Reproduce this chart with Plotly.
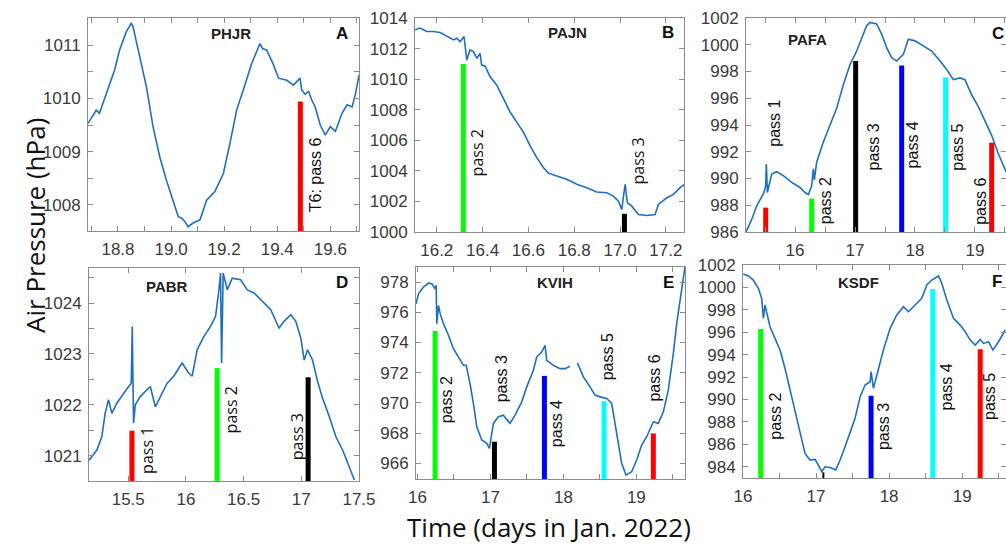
import plotly.graph_objects as go

# ---------------- data ----------------
# Panel A  PHJR
a_t = [18.687, 18.718, 18.73, 18.756, 18.787, 18.806, 18.831, 18.850, 18.856, 18.882, 18.907, 18.932,
       18.957, 18.982, 19.008, 19.027, 19.040, 19.052, 19.064, 19.083, 19.109, 19.134, 19.165, 19.197,
       19.222, 19.247, 19.272, 19.304, 19.335, 19.345, 19.360, 19.386, 19.405, 19.420, 19.436, 19.461,
       19.486, 19.492, 19.505, 19.518, 19.530, 19.543, 19.562, 19.581, 19.600, 19.619, 19.644, 19.663,
       19.682, 19.695, 19.708]
a_p = [1009.53, 1009.78, 1009.72, 1010.09, 1010.53, 1010.91, 1011.25, 1011.41, 1011.36, 1010.78, 1010.22, 1009.47,
       1008.91, 1008.47, 1008.09, 1007.78, 1007.75, 1007.69, 1007.59, 1007.66, 1007.72, 1008.09, 1008.25, 1008.59,
       1009.16, 1009.78, 1010.16, 1010.66, 1011.03, 1010.93, 1010.91, 1010.63, 1010.38, 1010.36, 1010.34, 1010.25,
       1010.38, 1010.16, 1010.08, 1010.13, 1009.97, 1009.84, 1009.50, 1009.31, 1009.47, 1009.38, 1009.72, 1009.88,
       1009.84, 1010.09, 1010.44]
a_bar_t = [19.487]
a_bar_top = [1009.94]
a_bar_col = ["#ff0000"]
a_lab = ["T6: pass 6"]
a_lab_t = [19.543]
a_lab_p = [1008.56]

# Panel B  PAJN
b_t = [16.105, 16.127, 16.156, 16.185, 16.215, 16.244, 16.273, 16.287, 16.302, 16.319, 16.331, 16.345,
       16.36, 16.375, 16.389, 16.396, 16.411, 16.433, 16.462, 16.491, 16.52, 16.549, 16.578, 16.607,
       16.636, 16.665, 16.687, 16.724, 16.767, 16.811, 16.855, 16.898, 16.942, 16.971, 16.993, 17.007,
       17.018, 17.022, 17.032, 17.051, 17.080, 17.116, 17.153, 17.167, 17.204, 17.233, 17.262, 17.279]
b_p = [1013.23, 1013.34, 1013.12, 1013.12, 1013.05, 1012.79, 1012.57, 1012.68, 1012.46, 1012.79, 1011.25, 1011.91,
       1011.8, 1011.36, 1011.69, 1010.92, 1010.85, 1010.15, 1009.60, 1008.73, 1007.85, 1007.19, 1006.53, 1005.65,
       1004.88, 1004.22, 1003.85, 1003.67, 1003.45, 1003.12, 1002.90, 1002.62, 1002.57, 1002.35, 1002.02, 1001.47,
       1002.57, 1003.12, 1001.91, 1001.69, 1001.14, 1001.08, 1001.14, 1001.8, 1002.24, 1002.46, 1002.90, 1003.1]
b_bar_t = [16.316, 17.019]
b_bar_top = [1010.99, 1001.19]
b_bar_col = ["#00ff00", "#000000"]
b_lab = ["pass 2", "pass 3"]
b_lab_t = [16.375, 17.077]
b_lab_p = [1005.2, 1004.66]

# Panel C  PAFA
c_t = [15.183, 15.278, 15.361, 15.444, 15.483, 15.511, 15.522, 15.539, 15.567, 15.611, 15.694, 15.806,
       15.944, 16.083, 16.167, 16.222, 16.278, 16.306, 16.322, 16.361, 16.472, 16.583, 16.694, 16.806,
       16.917, 17.028, 17.111, 17.194, 17.25, 17.361, 17.444, 17.528, 17.611, 17.694, 17.806, 17.889,
       18.0, 18.139, 18.278, 18.417, 18.528, 18.639, 18.75, 18.833, 18.944, 19.056, 19.167, 19.278,
       19.389, 19.5, 19.52]
c_p = [986.0, 986.94, 987.94, 988.57, 988.95, 989.46, 991.09, 988.95, 989.58, 990.34, 990.51, 990.21,
       989.71, 989.33, 988.95, 988.8, 989.46, 990.72, 989.9, 991.22, 992.73, 993.99, 995.25, 997.01,
       998.52, 999.53, 1000.54, 1001.42, 1001.67, 1001.55, 1000.79, 999.78, 999.03, 998.78, 999.28, 1000.41,
       1000.29, 999.91, 999.53, 998.78, 998.15, 997.39, 997.52, 997.39, 996.26, 995.38, 994.24, 993.23,
       991.85, 990.72, 990.5]
c_bar_t = [15.511, 16.278, 17.011, 17.778, 18.511, 19.278]
c_bar_top = [987.82, 988.5, 998.78, 998.45, 997.57, 992.68]
c_bar_col = ["#ff0000", "#00ff00", "#000000", "#0000ff", "#00ffff", "#ff0000"]
c_lab = ["pass 1", "pass 2", "pass 3", "pass 4", "pass 5", "pass 6"]
c_lab_t = [15.667, 16.5, 17.306, 17.956, 18.694, 19.094]
c_lab_p = [994.1, 988.3, 992.35, 992.5, 992.35, 988.3]

# Panel D  PABR
d_t = [15.161, 15.228, 15.271, 15.3, 15.329, 15.358, 15.401, 15.459, 15.503, 15.526, 15.535, 15.546,
       15.561, 15.604, 15.662, 15.691, 15.735, 15.778, 15.836, 15.894, 15.967, 16.025, 16.054, 16.097,
       16.155, 16.213, 16.257, 16.286, 16.3, 16.309, 16.323, 16.358, 16.401, 16.474, 16.532, 16.59,
       16.677, 16.735, 16.807, 16.851, 16.909, 16.952, 16.996, 17.025, 17.054, 17.097, 17.141, 17.184,
       17.242, 17.3, 17.358, 17.416, 17.46]
d_p = [1020.91, 1021.11, 1021.37, 1021.83, 1022.10, 1021.83, 1022.03, 1022.23, 1022.36, 1022.42, 1023.54, 1021.64,
       1022.0, 1022.16, 1022.29, 1022.36, 1021.96, 1022.16, 1022.42, 1022.56, 1022.82, 1022.62, 1022.56, 1023.08,
       1023.34, 1023.54, 1023.74, 1024.26, 1024.59, 1022.82, 1024.59, 1024.26, 1024.49, 1024.46, 1024.26, 1024.20,
       1024.0, 1023.87, 1023.51, 1023.64, 1023.77, 1023.64, 1023.31, 1022.88, 1023.08, 1022.88, 1022.46, 1022.13,
       1021.77, 1021.37, 1021.11, 1020.78, 1020.52]
d_bar_t = [15.532, 16.271, 17.059]
d_bar_top = [1021.49, 1022.72, 1022.54]
d_bar_col = ["#ff0000", "#00ff00", "#000000"]
d_lab = ["pass 1", "pass 2", "pass 3"]
d_lab_t = [15.662, 16.387, 16.958]
d_lab_p = [1021.11, 1021.9, 1021.37]

# Panel E  KVIH
e_t = [15.98, 16.014, 16.082, 16.151, 16.196, 16.242, 16.256, 16.265, 16.288, 16.311, 16.356, 16.425,
       16.493, 16.562, 16.630, 16.667, 16.721, 16.767, 16.813, 16.881, 16.950, 16.986, 17.041, 17.110,
       17.178, 17.269, 17.338, 17.429, 17.498, 17.589, 17.635, 17.703, 17.749, 17.772, 17.863, 17.954,
       18.023, 18.091, None, 18.192, 18.274, 18.365, 18.434, 18.502, 18.594, 18.662, 18.708, 18.753,
       18.799, 18.858, 18.936, 19.005, 19.073, 19.142, 19.233, 19.301, 19.370, 19.438, 19.507, 19.553,
       19.598, 19.64, 19.667]
e_p = [976.57, 977.23, 977.67, 977.93, 977.89, 977.56, 977.79, 975.25, 976.46, 975.91, 975.25, 974.48,
       973.59, 973.04, 972.49, 972.49, 971.28, 969.96, 968.42, 967.54, 967.32, 966.99, 968.64, 969.08,
       969.19, 968.64, 969.19, 970.07, 971.06, 972.16, 973.04, 973.37, 973.81, 972.82, 972.49, 972.27,
       972.27, 972.43, None, 972.65, 971.72, 971.06, 970.51, 970.40, 970.29, 969.96, 968.64, 967.32,
       966.0, 965.22, 965.44, 966.22, 967.21, 967.76, 968.75, 968.64, 969.41, 970.84, 973.26, 975.25,
       976.79, 978.2, 979.0]
e_bar_t = [16.242, 17.055, 17.74, 18.557, 19.233]
e_bar_top = [974.76, 967.43, 971.79, 970.11, 967.98]
e_bar_col = ["#00ff00", "#000000", "#0000ff", "#00ffff", "#ff0000"]
e_lab = ["pass 2", "pass 3", "pass 4", "pass 5", "pass 6"]
e_lab_t = [16.393, 17.155, 17.909, 18.616, 19.256]
e_lab_p = [970.18, 971.61, 968.64, 973.04, 971.61]

# Panel F  KSDF
f_t = [16.005, 16.073, 16.142, 16.21, 16.256, 16.279, 16.301, 16.324, 16.37, 16.438, 16.507, 16.575,
       16.644, 16.712, 16.781, 16.849, 16.918, 16.986, 17.032, 17.078, 17.123, 17.192, 17.269, 17.329,
       17.397, 17.466, 17.534, 17.603, 17.671, 17.74, 17.753, 17.785, 17.854, 17.922, 18.014, 18.105,
       18.196, 18.265, 18.356, 18.447, 18.516, 18.584, 18.676, 18.721, 18.79, 18.881, 18.973, 19.041,
       19.11, 19.178, 19.247, 19.292, 19.361, 19.42, 19.498, 19.589]
f_p = [1001.2, 1001.02, 1000.66, 999.92, 999.02, 997.24, 998.43, 997.83, 996.49, 995.45, 994.41, 992.77,
       990.84, 988.76, 986.82, 985.18, 984.59, 984.65, 984.14, 983.55, 983.99, 983.93, 983.70, 984.59,
       985.78, 987.12, 988.31, 990.24, 991.29, 991.58, 992.48, 990.99, 992.77, 994.41, 996.35, 997.54,
       998.28, 997.83, 998.43, 999.02, 1000.21, 1000.66, 1001.02, 1000.36, 998.88, 997.24, 996.64, 996.05,
       995.30, 994.86, 995.36, 995.0, 995.15, 994.41, 995.15, 996.20]
f_bar_t = [16.242, 17.1, 17.753, 18.598, 19.247]
f_bar_top = [996.29, 983.5, 990.33, 999.86, 994.47]
f_bar_col = ["#00ff00", "#000000", "#0000ff", "#00ffff", "#ff0000"]
f_lab = ["pass 2", "pass 3", "pass 4", "pass 5"]
f_lab_t = [16.452, 17.922, 18.79, 19.384]
f_lab_p = [988.46, 987.57, 991.14, 990.24]

station_names = ["PHJR", "PAJN", "PAFA", "PABR", "KVIH", "KSDF"]
panel_letters = ["A", "B", "C", "D", "E", "F"]

# ---------------- layout helpers ----------------
W, H = 1006, 544

def xd(x0, x1):
    return [x0 / W, min(x1 / W, 1.0)]

def yd(y0, y1):
    return [1 - y1 / H, 1 - y0 / H]

panels = [
    dict(t=a_t, p=a_p, bt=a_bar_t, btop=a_bar_top, bc=a_bar_col, lab=a_lab, lt=a_lab_t, lp=a_lab_p,
         xdom=xd(88, 359), ydom=yd(18, 231), xr=[18.687, 19.708], yr=[1007.51, 1011.51],
         xt=[18.8, 19.0, 19.2, 19.4, 19.6], xfmt=".1f", xminor=0.1, yt=[1008, 1009, 1010, 1011], yminor=0.5,
         name_xy=(231, 33), let_xy=(342, 33), labfont="Liberation Sans"),
    dict(t=b_t, p=b_p, bt=b_bar_t, btop=b_bar_top, bc=b_bar_col, lab=b_lab, lt=b_lab_t, lp=b_lab_p,
         xdom=xd(415, 684), ydom=yd(18, 232), xr=[16.105, 17.279], yr=[1000, 1014],
         xt=[16.2, 16.4, 16.6, 16.8, 17.0, 17.2], xfmt=".1f", xminor=None,
         yt=[1000, 1002, 1004, 1006, 1008, 1010, 1012, 1014], yminor=None,
         name_xy=(567, 32), let_xy=(668, 32), labfont="Open Sans"),
    dict(t=c_t, p=c_p, bt=c_bar_t, btop=c_bar_top, bc=c_bar_col, lab=c_lab, lt=c_lab_t, lp=c_lab_p,
         xdom=xd(746, 1006), ydom=yd(18, 232), xr=[15.183, 19.517], yr=[986, 1002],
         xt=[16, 17, 18, 19], xfmt=None, xminor=0.5,
         yt=[986, 988, 990, 992, 994, 996, 998, 1000, 1002], yminor=None,
         name_xy=(807, 40), let_xy=(998, 33), labfont="Liberation Sans"),
    dict(t=d_t, p=d_p, bt=d_bar_t, btop=d_bar_top, bc=d_bar_col, lab=d_lab, lt=d_lab_t, lp=d_lab_p,
         xdom=xd(89, 359), ydom=yd(268, 481), xr=[15.16, 17.5], yr=[1020.5, 1024.69],
         xt=[15.5, 16, 16.5, 17, 17.5], xfmt=None, xminor=None, yt=[1021, 1022, 1023, 1024], yminor=0.5,
         name_xy=(167, 286), let_xy=(342, 282), labfont="Open Sans"),
    dict(t=e_t, p=e_p, bt=e_bar_t, btop=e_bar_top, bc=e_bar_col, lab=e_lab, lt=e_lab_t, lp=e_lab_p,
         xdom=xd(416, 685), ydom=yd(267, 479), xr=[15.98, 19.667], yr=[964.96, 979],
         xt=[16, 17, 18, 19], xfmt=None, xminor=0.5, yt=[966, 968, 970, 972, 974, 976, 978], yminor=None,
         name_xy=(555, 282), let_xy=(668, 282), labfont="Liberation Sans"),
    dict(t=f_t, p=f_p, bt=f_bar_t, btop=f_bar_top, bc=f_bar_col, lab=f_lab, lt=f_lab_t, lp=f_lab_p,
         xdom=xd(743, 1006), ydom=yd(265, 478), xr=[16.0, 19.6], yr=[982.99, 1002],
         xt=[16, 17, 18, 19], xfmt=None, xminor=0.5,
         yt=[984, 986, 988, 990, 992, 994, 996, 998, 1000, 1002], yminor=None,
         name_xy=(858, 282), let_xy=(997, 281), labfont="Liberation Sans"),
]

AX_COL = "#8c8c8c"
TICK_FONT = dict(family="Liberation Sans, Arial, sans-serif", size=17, color="#3a3a3a")
LINE_COL = "#1f6fc0"
CENTER = dict(xanchor="center", yanchor="middle", showarrow=False)

fig = go.Figure()
annotations = []
layout = {}

for i, pn in enumerate(panels):
    k = "" if i == 0 else str(i + 1)
    xa, ya = "x" + k, "y" + k
    assert len(pn["t"]) == len(pn["p"])
    # colored pass bars
    for j, (bt, btop, bc) in enumerate(zip(pn["bt"], pn["btop"], pn["bc"])):
        thin = (i == 5 and j == 1)
        fig.add_trace(go.Scatter(x=[bt, bt], y=[pn["yr"][0], btop], mode="lines",
                                 line=dict(color=bc, width=2 if thin else 5),
                                 xaxis=xa, yaxis=ya, showlegend=False, hoverinfo="skip"))
    # pressure line
    fig.add_trace(go.Scatter(x=pn["t"], y=pn["p"], mode="lines", connectgaps=False,
                             line=dict(color=LINE_COL, width=1.6),
                             xaxis=xa, yaxis=ya, showlegend=False))
    xaxis = dict(domain=pn["xdom"], range=pn["xr"], anchor=ya, showgrid=False, zeroline=False,
                 showline=True, linecolor=AX_COL, linewidth=1, mirror="ticks", automargin=False,
                 ticks="inside", ticklen=5, tickcolor=AX_COL, tickvals=pn["xt"],
                 tickfont=TICK_FONT, ticklabelstandoff=3)
    if pn["xfmt"]:
        xaxis["tickformat"] = pn["xfmt"]
    if pn["xminor"]:
        xaxis["minor"] = dict(dtick=pn["xminor"], ticks="inside", ticklen=5, tickcolor=AX_COL, showgrid=False)
    yaxis = dict(domain=pn["ydom"], range=pn["yr"], anchor=xa, showgrid=False, zeroline=False,
                 showline=True, linecolor=AX_COL, linewidth=1, mirror="ticks", automargin=False,
                 ticks="inside", ticklen=5, tickcolor=AX_COL, tickvals=pn["yt"],
                 tickfont=TICK_FONT, ticklabelstandoff=3)
    if pn["yminor"]:
        yaxis["minor"] = dict(dtick=pn["yminor"], ticks="inside", ticklen=5, tickcolor=AX_COL, showgrid=False)
    layout["xaxis" + k] = xaxis
    layout["yaxis" + k] = yaxis

    # pass labels
    for txt, lt, lp in zip(pn["lab"], pn["lt"], pn["lp"]):
        annotations.append(dict(x=lt, y=lp, xref=xa, yref=ya, text=txt, textangle=-90,
                                font=dict(family=pn["labfont"], size=16, color="#111111"), **CENTER))
    # station name and panel letter
    nx, ny = pn["name_xy"]
    annotations.append(dict(x=nx / W, y=1 - ny / H, xref="paper", yref="paper", text="<b>%s</b>" % station_names[i],
                            font=dict(family="Liberation Sans, Arial", size=15, color="#222222"), **CENTER))
    lx, ly = pn["let_xy"]
    annotations.append(dict(x=lx / W, y=1 - ly / H, xref="paper", yref="paper", text="<b>%s</b>" % panel_letters[i],
                            font=dict(family="Liberation Sans, Arial", size=17, color="#111111"), **CENTER))

# overall axis titles
annotations.append(dict(x=35 / W, y=1 - 226 / H, xref="paper", yref="paper", text="Air Pressure (hPa)",
                        textangle=-90, font=dict(family="Open Sans, sans-serif", size=26, color="#111111"), **CENTER))
annotations.append(dict(x=549 / W, y=1 - 527 / H, xref="paper", yref="paper", text="Time (days in Jan. 2022)",
                        font=dict(family="Open Sans, sans-serif", size=26, color="#111111"), **CENTER))

fig.update_layout(width=W, height=H, margin=dict(l=0, r=0, t=0, b=0, autoexpand=False),
                  paper_bgcolor="white", plot_bgcolor="white", annotations=annotations, **layout)

fig.write_html("out.html")
